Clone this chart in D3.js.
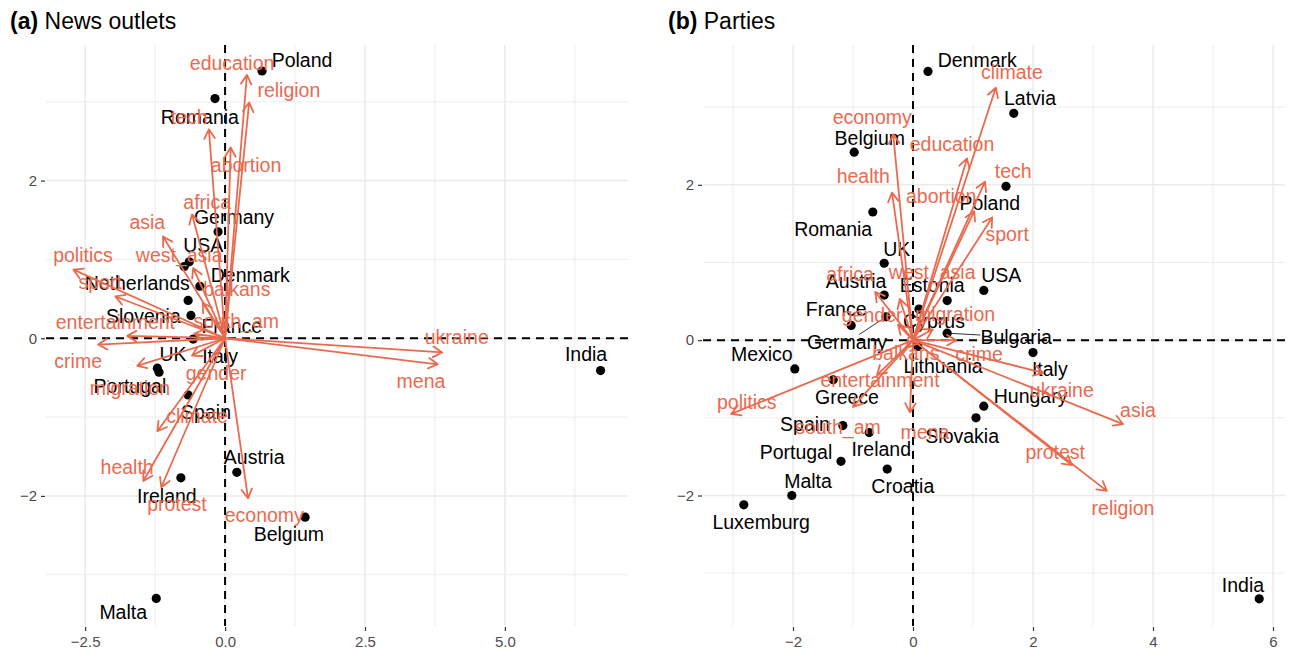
<!DOCTYPE html>
<html>
<head>
<meta charset="utf-8">
<script src="https://cdn.jsdelivr.net/npm/d3@7"></script>
<style>
  html, body { margin: 0; padding: 0; background: #fff; }
  svg { display: block; font-family: "Liberation Sans", Arial, Helvetica, sans-serif; }
</style>
</head>
<body>
<svg id="chart" width="1292" height="651"></svg>
<script>
// ---------- Panel (a): news outlets ----------
const outletCountries = ["Poland","Romania","Germany","USA","Netherlands","Denmark","Slovenia","France","Italy","UK","Portugal","Spain","Austria","Ireland","Belgium","Malta","India"];
const outletX      = [0.66, -0.18, -0.125, -0.64, -0.73, -0.45, -0.66, -0.61, -0.57, -1.21, -1.18, -0.66, 0.21, -0.79, 1.43, -1.23, 6.71];
const outletY      = [3.39, 3.04, 1.35, 0.97, 0.91, 0.66, 0.48, 0.29, -0.01, -0.38, -0.43, -0.72, -1.70, -1.77, -2.27, -3.30, -0.41];
const outletLabelX = [1.375, -0.45, 0.16, -0.39, -1.57, 0.45, -1.46, 0.12, -0.09, -0.93, -1.70, -0.34, 0.52, -1.04, 1.14, -1.82, 6.45];
const outletLabelY = [3.53, 2.81, 1.53, 1.18, 0.70, 0.80, 0.28, 0.15, -0.23, -0.20, -0.61, -0.94, -1.51, -2.00, -2.48, -3.47, -0.20];

const outletTopics = ["education","religion","tech","abortion","africa","asia","west_asia","politics","sport","balkans","entertainment","south_am","crime","gender","migration","climate","health","protest","economy","ukraine","mena"];
const outletLoadX  = [0.39, 0.43, -0.29, 0.10, -0.59, -1.11, -0.57, -2.71, -1.96, -0.40, -1.75, -0.55, -2.27, -0.59, -1.57, -1.21, -1.46, -1.14, 0.41, 3.88, 3.80];
const outletLoadY  = [3.34, 2.99, 2.65, 2.42, 1.57, 1.29, 0.89, 0.87, 0.53, 0.45, 0.03, 0.06, -0.08, -0.22, -0.35, -1.18, -1.81, -1.89, -2.03, -0.18, -0.33];
const outletTopicLabelX = [0.125, 1.14, -0.64, 0.375, -0.32, -1.39, -0.82, -2.54, -2.23, 0.21, -1.96, 0.20, -2.625, -0.16, -1.70, -0.50, -1.75, -0.86, 0.70, 4.14, 3.50];
const outletTopicLabelY = [3.49, 3.15, 2.81, 2.19, 1.73, 1.47, 1.05, 1.06, 0.71, 0.62, 0.20, 0.22, -0.29, -0.44, -0.63, -0.99, -1.63, -2.11, -2.25, 0.01, -0.54];

const outletXTicks = [-2.5, 0, 2.5, 5.0];
const outletXTickLabels = ["\u22122.5", "0.0", "2.5", "5.0"];
const outletYTicks = [-2, 0, 2];
const outletYTickLabels = ["\u22122", "0", "2"];
const outletXMinor = [-1.25, 1.25, 3.75, 6.25];
const outletYMinor = [-3, -1, 1, 3];
const outletDomainX = [-3.2, 7.2];
const outletDomainY = [-3.65, 3.72];

// ---------- Panel (b): parties ----------
const partyCountries = ["Denmark","Latvia","Belgium","Poland","Romania","UK","USA","Austria","Estonia","France","Cyprus","Germany","Bulgaria","Mexico","Lithuania","Italy","Greece","Hungary","Slovakia","Spain","Ireland","Portugal","Croatia","Malta","Luxemburg","India"];
const partyX      = [0.25, 1.68, -0.98, 1.55, -0.67, -0.48, 1.18, -0.48, 0.57, -1.03, 0.10, -0.45, 0.57, -1.97, 0.08, 2.00, -1.33, 1.18, 1.05, -1.17, -0.73, -1.20, -0.43, -2.02, -2.82, 5.77];
const partyY      = [3.46, 2.92, 2.42, 1.98, 1.65, 0.99, 0.64, 0.58, 0.51, 0.19, 0.40, 0.30, 0.09, -0.37, -0.08, -0.16, -0.51, -0.85, -1.00, -1.10, -1.19, -1.56, -1.66, -2.00, -2.12, -3.33];
const partyLabelX = [1.07, 1.95, -0.72, 1.28, -1.33, -0.27, 1.47, -0.95, 0.32, -1.28, 0.35, -1.10, 1.72, -2.52, 0.50, 2.28, -1.10, 1.96, 0.82, -1.80, -0.53, -1.95, -0.17, -1.75, -2.53, 5.50];
const partyLabelY = [3.61, 3.11, 2.60, 1.77, 1.43, 1.17, 0.84, 0.76, 0.71, 0.40, 0.24, -0.03, 0.04, -0.18, -0.33, -0.37, -0.73, -0.72, -1.23, -1.08, -1.40, -1.44, -1.88, -1.81, -2.34, -3.15];

const partyTopics = ["climate","economy","education","health","abortion","tech","sport","africa","west_asia","asia","gender","migration","crime","balkans","entertainment","politics","south_am","mena","ukraine","protest","religion"];
const partyLoadX  = [1.38, -0.33, 0.90, -0.35, 1.02, 1.20, 1.32, -0.63, -0.22, 3.50, -0.25, 0.33, 0.72, -0.10, -0.60, -3.03, -1.00, -0.05, 2.17, 2.65, 3.23];
const partyLoadY  = [3.25, 2.65, 2.34, 1.90, 1.66, 2.04, 1.58, 0.62, 0.53, -1.08, 0.20, 0.14, 0.00, -0.10, -0.45, -0.95, -0.86, -0.93, -0.42, -1.61, -1.94];
const partyTopicLabelX = [1.65, -0.68, 0.65, -0.83, 0.47, 1.67, 1.57, -1.05, 0.32, 3.75, -0.68, 0.70, 1.10, -0.12, -0.55, -2.77, -1.25, 0.20, 2.48, 2.37, 3.50];
const partyTopicLabelY = [3.45, 2.87, 2.52, 2.11, 1.86, 2.17, 1.36, 0.85, 0.87, -0.90, 0.32, 0.33, -0.18, -0.17, -0.52, -0.80, -1.12, -1.19, -0.65, -1.44, -2.16];

const partyXTicks = [-2, 0, 2, 4, 6];
const partyXTickLabels = ["\u22122", "0", "2", "4", "6"];
const partyYTicks = [-2, 0, 2];
const partyYTickLabels = ["\u22122", "0", "2"];
const partyXMinor = [-3, -1, 1, 3, 5];
const partyYMinor = [-3, -1, 1, 3];
const partyDomainX = [-3.5, 6.2];
const partyDomainY = [-3.68, 3.8];

// ---------- styling ----------
const ARROW = "#EA6A4F";
const GRID = "#EBEBEB";
const LABEL_SIZE = 19.5;

const svg = d3.select("#chart");

function drawPanel(cfg) {
  const g = svg.append("g");
  const x = d3.scaleLinear().domain(cfg.domainX).range([cfg.left, cfg.right]);
  const y = d3.scaleLinear().domain(cfg.domainY).range([cfg.bottom, cfg.top]);

  // grid: minor then major
  const grid = g.append("g");
  grid.selectAll(".vminor").data(cfg.xMinor).join("line")
    .attr("x1", d => x(d)).attr("x2", d => x(d))
    .attr("y1", cfg.top).attr("y2", cfg.bottom)
    .attr("stroke", GRID).attr("stroke-width", 0.9);
  grid.selectAll(".hminor").data(cfg.yMinor).join("line")
    .attr("y1", d => y(d)).attr("y2", d => y(d))
    .attr("x1", cfg.left).attr("x2", cfg.right)
    .attr("stroke", GRID).attr("stroke-width", 0.9);
  grid.selectAll(".vmajor").data(cfg.xTicks).join("line")
    .attr("x1", d => x(d)).attr("x2", d => x(d))
    .attr("y1", cfg.top).attr("y2", cfg.bottom)
    .attr("stroke", GRID).attr("stroke-width", 1.5);
  grid.selectAll(".hmajor").data(cfg.yTicks).join("line")
    .attr("y1", d => y(d)).attr("y2", d => y(d))
    .attr("x1", cfg.left).attr("x2", cfg.right)
    .attr("stroke", GRID).attr("stroke-width", 1.5);

  // axes (ticks + labels only)
  const xAxis = d3.axisBottom(x).tickValues(cfg.xTicks)
    .tickFormat((d, i) => cfg.xTickLabels[i]).tickSize(4).tickPadding(5);
  const gx = g.append("g").attr("transform", `translate(0,${cfg.bottom + 1})`).call(xAxis);
  gx.select(".domain").remove();
  gx.selectAll(".tick line").attr("stroke", "#333").attr("stroke-width", 1.2);
  gx.selectAll(".tick text").attr("fill", "#4D4D4D").style("font-size", "15px")
    .style("font-family", "Liberation Sans, Arial, sans-serif");

  const yAxis = d3.axisLeft(y).tickValues(cfg.yTicks)
    .tickFormat((d, i) => cfg.yTickLabels[i]).tickSize(4).tickPadding(4);
  const gy = g.append("g").attr("transform", `translate(${cfg.left - 1},0)`).call(yAxis);
  gy.select(".domain").remove();
  gy.selectAll(".tick line").attr("stroke", "#333").attr("stroke-width", 1.2);
  gy.selectAll(".tick text").attr("fill", "#4D4D4D").style("font-size", "15px")
    .style("font-family", "Liberation Sans, Arial, sans-serif");

  // dashed reference lines through the origin
  g.append("line")
    .attr("x1", cfg.left).attr("x2", cfg.right)
    .attr("y1", y(0)).attr("y2", y(0))
    .attr("stroke", "#000").attr("stroke-width", 2).attr("stroke-dasharray", "8,6");
  g.append("line")
    .attr("x1", x(0)).attr("x2", x(0))
    .attr("y1", cfg.top).attr("y2", cfg.bottom)
    .attr("stroke", "#000").attr("stroke-width", 2).attr("stroke-dasharray", "8,6");

  // observation points
  const pts = cfg.names.map((n, i) => ({ name: n, x: cfg.px[i], y: cfg.py[i], lx: cfg.lx[i], ly: cfg.ly[i] }));
  const segLayer = g.append("g");
  g.append("g").selectAll("circle").data(pts).join("circle")
    .attr("cx", d => x(d.x)).attr("cy", d => y(d.y)).attr("r", 4.6).attr("fill", "#000");

  const labs = g.append("g").selectAll("text").data(pts).join("text")
    .attr("x", d => x(d.lx)).attr("y", d => y(d.ly))
    .attr("text-anchor", "middle").attr("dy", "0.35em")
    .style("font-size", LABEL_SIZE + "px").attr("fill", "#000")
    .text(d => d.name);

  // leader segments for labels that sit far from their point
  labs.each(function (d) {
    const w = this.getComputedTextLength();
    const cx = x(d.lx), cy = y(d.ly);
    const hw = w / 2, hh = 8;
    const px = x(d.x), py = y(d.y);
    const dx = Math.max(cx - hw - px, 0, px - (cx + hw));
    const dy = Math.max(cy - hh - py, 0, py - (cy + hh));
    if (Math.hypot(dx, dy) > 15) {
      const vx = cx - px, vy = cy - py;
      const tX = vx !== 0 ? (Math.abs(vx) - hw) / Math.abs(vx) : 1;
      const tY = vy !== 0 ? (Math.abs(vy) - hh) / Math.abs(vy) : 1;
      const t = Math.max(0, Math.min(1, Math.max(tX, tY)));
      segLayer.append("line")
        .attr("x1", px + vx * 0.06).attr("y1", py + vy * 0.06)
        .attr("x2", px + vx * t).attr("y2", py + vy * t)
        .attr("stroke", "#000").attr("stroke-width", 0.8);
    }
  });

  // loading arrows
  const arrows = cfg.topics.map((n, i) => ({ name: n, x: cfg.ax[i], y: cfg.ay[i], lx: cfg.tlx[i], ly: cfg.tly[i] }));
  const ag = g.append("g").attr("stroke", ARROW).attr("stroke-width", 1.8).attr("fill", "none")
    .attr("stroke-linecap", "round").attr("stroke-linejoin", "round");
  ag.selectAll("path").data(arrows).join("path")
    .attr("d", d => {
      const x0 = x(0), y0 = y(0), x1 = x(d.x), y1 = y(d.y);
      const ang = Math.atan2(y1 - y0, x1 - x0);
      const L = 10.5, spread = Math.PI / 6;
      const hx1 = x1 - L * Math.cos(ang - spread), hy1 = y1 - L * Math.sin(ang - spread);
      const hx2 = x1 - L * Math.cos(ang + spread), hy2 = y1 - L * Math.sin(ang + spread);
      return `M${x0},${y0}L${x1},${y1}M${hx1},${hy1}L${x1},${y1}L${hx2},${hy2}`;
    });

  g.append("g").selectAll("text").data(arrows).join("text")
    .attr("x", d => x(d.lx)).attr("y", d => y(d.ly))
    .attr("text-anchor", "middle").attr("dy", "0.35em")
    .style("font-size", LABEL_SIZE + "px").attr("fill", ARROW)
    .text(d => d.name);

  // panel title
  const title = svg.append("text").attr("x", cfg.titleX).attr("y", 29)
    .style("font-size", "23px").attr("fill", "#000");
  title.append("tspan").attr("font-weight", "bold").text(cfg.tag);
  title.append("tspan").text(" " + cfg.title);
}

drawPanel({
  left: 46, right: 628, top: 45, bottom: 626,
  domainX: outletDomainX, domainY: outletDomainY,
  xTicks: outletXTicks, xTickLabels: outletXTickLabels,
  yTicks: outletYTicks, yTickLabels: outletYTickLabels,
  xMinor: outletXMinor, yMinor: outletYMinor,
  names: outletCountries, px: outletX, py: outletY, lx: outletLabelX, ly: outletLabelY,
  topics: outletTopics, ax: outletLoadX, ay: outletLoadY, tlx: outletTopicLabelX, tly: outletTopicLabelY,
  tag: "(a)", title: "News outlets", titleX: 10
});

drawPanel({
  left: 703, right: 1285, top: 45, bottom: 626,
  domainX: partyDomainX, domainY: partyDomainY,
  xTicks: partyXTicks, xTickLabels: partyXTickLabels,
  yTicks: partyYTicks, yTickLabels: partyYTickLabels,
  xMinor: partyXMinor, yMinor: partyYMinor,
  names: partyCountries, px: partyX, py: partyY, lx: partyLabelX, ly: partyLabelY,
  topics: partyTopics, ax: partyLoadX, ay: partyLoadY, tlx: partyTopicLabelX, tly: partyTopicLabelY,
  tag: "(b)", title: "Parties", titleX: 668
});
</script>
</body>
</html>
